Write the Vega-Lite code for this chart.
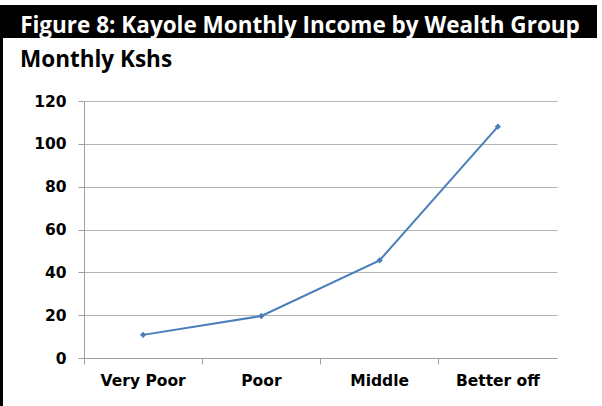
{
  "$schema": "https://vega.github.io/schema/vega-lite/v6.json",
  "background": "white",
  "padding": {"top": 5, "left": 0, "right": 0, "bottom": 0},
  "columns": 2,
  "align": "none",
  "spacing": 0,
  "config": {
    "font": "DejaVu Sans"
  },
  "concat": [
    {
      "width": 3,
      "height": 43,
      "view": {"fill": "black", "stroke": null},
      "data": {"values": [{}]},
      "mark": {"type": "point", "opacity": 0, "size": 0, "filled": true, "strokeWidth": 0},
      "encoding": {}
    },
    {
      "width": 594,
      "height": 33,
      "view": {"fill": "black", "stroke": null},
      "data": {"values": [{"heading": "Figure 8: Kayole Monthly Income by Wealth Group"}]},
      "mark": {"type": "text", "font": "Open Sans", "fontWeight": "bold", "fontSize": 22.5, "color": "white", "baseline": "alphabetic", "dy": 11.5},
      "encoding": {"text": {"field": "heading"}}
    },
    {
      "width": 3,
      "height": 358,
      "view": {"fill": "black", "stroke": null},
      "data": {"values": [{}]},
      "mark": {"type": "point", "opacity": 0, "size": 0, "filled": true, "strokeWidth": 0},
      "encoding": {}
    },
    {
      "width": 473,
      "height": 257,
      "view": {"stroke": null},
      "title": {
        "text": "Monthly Kshs",
        "anchor": "start",
        "frame": "group",
        "font": "Open Sans",
        "fontWeight": "bold",
        "fontSize": 22.5,
        "color": "black",
        "offset": 23,
        "dx": -64
      },
      "data": {
        "values": [
          {"group": "Very Poor", "income": 10.8},
          {"group": "Poor", "income": 19.6},
          {"group": "Middle", "income": 45.6},
          {"group": "Better off", "income": 108}
        ]
      },
      "mark": {
        "type": "line",
        "color": "#4A7EBB",
        "strokeWidth": 2,
        "point": {"shape": "diamond", "size": 40, "filled": true, "color": "#4A7EBB"}
      },
      "encoding": {
        "x": {
          "field": "group",
          "type": "nominal",
          "sort": null,
          "scale": {"type": "band", "paddingInner": 0, "paddingOuter": 0},
          "axis": {
            "title": null,
            "labelAngle": 0,
            "labelFont": "DejaVu Sans",
            "labelFontWeight": "bold",
            "labelFontSize": 15.5,
            "labelColor": "black",
            "labelPadding": 9,
            "bandPosition": 0,
            "tickSize": 6,
            "tickColor": "#a0a0a0",
            "domainColor": "#a0a0a0",
            "grid": false
          }
        },
        "y": {
          "field": "income",
          "type": "quantitative",
          "scale": {"domain": [0, 120], "nice": false},
          "axis": {
            "title": null,
            "values": [0, 20, 40, 60, 80, 100, 120],
            "minExtent": 81,
            "labelFont": "DejaVu Sans",
            "labelFontWeight": "bold",
            "labelFontSize": 15.5,
            "labelColor": "black",
            "labelPadding": 12,
            "tickSize": 6,
            "tickColor": "#a0a0a0",
            "domainColor": "#a0a0a0",
            "grid": true,
            "gridColor": "#b4b4b4"
          }
        }
      }
    }
  ]
}
